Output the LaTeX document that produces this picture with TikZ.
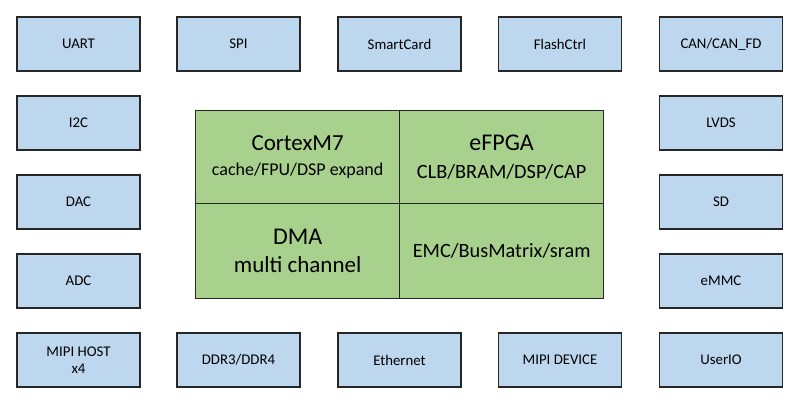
\documentclass[tikz,border=0pt]{standalone}
\usepackage{fontspec}
\setmainfont{Carlito}
\usetikzlibrary{positioning}
\definecolor{periph}{RGB}{189,215,238}
\definecolor{core}{RGB}{169,209,142}
\definecolor{frame}{RGB}{38,38,38}

\begin{document}
\begin{tikzpicture}[x=1pt, y=-1pt,
    periphbox/.style={draw=frame, fill=periph, line width=1.3pt, minimum width=123pt, minimum height=54pt, inner sep=0pt, align=center, font=\fontsize{14.8}{17}\selectfont},
    corebox/.style={draw=frame, fill=core, line width=1.3pt, minimum width=204pt, inner sep=0pt, anchor=north west, align=center}]
    \useasboundingbox (0,0) rectangle (800,401);

    % top row
    \node[periphbox] (uart) at (78.5,44) {UART};
    \node[periphbox] (spi) at (238.5,44) {SPI};
    \node[periphbox] (smartcard) at (399.5,44) {SmartCard};
    \node[periphbox] (flashctrl) at (560,44) {FlashCtrl};
    \node[periphbox] (can) at (721,44) {CAN/CAN\_FD};

    % left and right columns
    \node[periphbox] (i2c) at (78.5,123) {I2C};
    \node[periphbox] (dac) at (78.5,202) {DAC};
    \node[periphbox] (adc) at (78.5,281) {ADC};
    \node[periphbox] (lvds) at (721,123) {LVDS};
    \node[periphbox] (sd) at (721,202) {SD};
    \node[periphbox] (emmc) at (721,281) {eMMC};

    % bottom row
    \node[periphbox] (mipihost) at (78.5,360) {MIPI HOST\\x4};
    \node[periphbox] (ddr) at (238.5,360) {DDR3/DDR4};
    \node[periphbox] (ethernet) at (399.5,360) {Ethernet};
    \node[periphbox] (mipidev) at (560,360) {MIPI DEVICE};
    \node[periphbox] (userio) at (721,360) {UserIO};

    % core blocks
    \node[corebox, minimum height=93pt] (cortex) at (195,110)
      {{\fontsize{23}{25}\selectfont CortexM7}\\[11pt]{\fontsize{18}{20}\selectfont cache/FPU/DSP expand}};
    \node[corebox, minimum height=93pt] (efpga) at (399,110)
      {{\fontsize{24}{25}\selectfont eFPGA}\\[13pt]{\fontsize{20.3}{20}\selectfont CLB/BRAM/DSP/CAP}};
    \node[corebox, minimum height=95pt] (dma) at (195,203)
      {{\fontsize{24}{25}\selectfont DMA}\\[11pt]{\fontsize{23}{22}\selectfont multi channel}};
    \node[corebox, minimum height=95pt, font=\fontsize{20.3}{22}\selectfont] (emc) at (399,203) {EMC/BusMatrix/sram};

\end{tikzpicture}
\end{document}
